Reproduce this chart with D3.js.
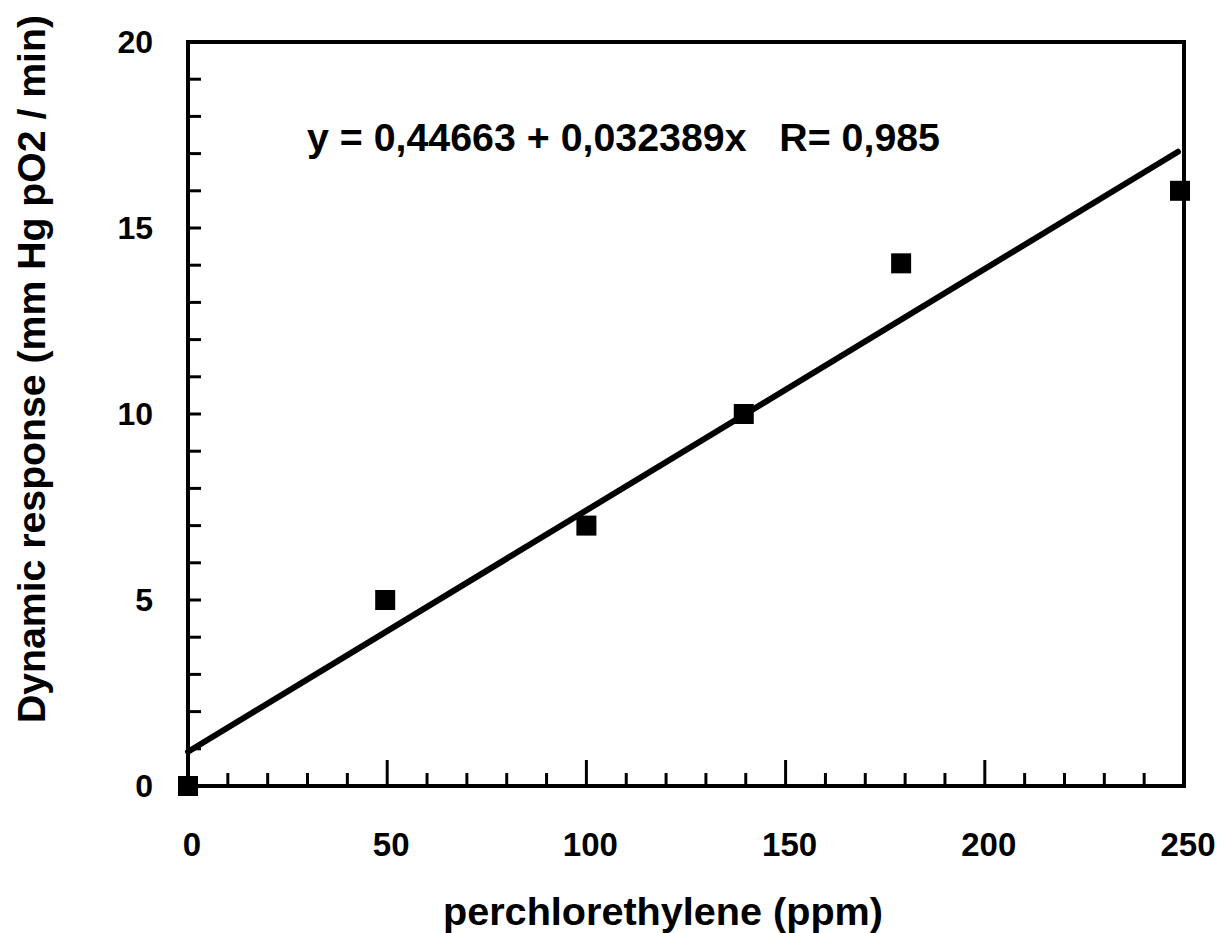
<!DOCTYPE html>
<html>
<head>
<meta charset="utf-8">
<script src="https://cdn.jsdelivr.net/npm/d3@7"></script>
<style>
  html, body { margin: 0; padding: 0; background: #fff; }
  svg { display: block; }
  text { font-family: "Liberation Sans", Arial, Helvetica, sans-serif; font-weight: bold; fill: #000; }
</style>
</head>
<body>
<svg id="chart" width="1231" height="933"></svg>
<script>
// ---- data ----
const concentration = [0, 49.5, 100, 139.5, 179, 249];      // perchlorethylene (ppm)
const response      = [0, 5.0, 7.0, 10.0, 14.05, 16.0];      // mm Hg pO2 / min
const fitX = [0, 248.5];
const fitY = [0.92, 17.05];
const xTickLabels = [0, 50, 100, 150, 200, 250];
const yTickLabels = [0, 5, 10, 15, 20];
const xMinorTicks = d3.range(0, 251, 10);
const yMinorTicks = d3.range(0, 21, 1);
const equationText = "y = 0,44663 + 0,032389x   R= 0,985";
const xTitle = "perchlorethylene (ppm)";
const yTitle = "Dynamic response (mm Hg pO2 / min)";

// ---- layout ----
const svg = d3.select("#chart");
const x = d3.scaleLinear().domain([0, 250]).range([188, 1184]);
const y = d3.scaleLinear().domain([0, 20]).range([786, 42]);

// frame
svg.append("rect")
  .attr("x", x(0)).attr("y", y(20))
  .attr("width", x(250) - x(0)).attr("height", y(0) - y(20))
  .attr("fill", "none").attr("stroke", "#000").attr("stroke-width", 4);

// x ticks (inward)
svg.append("g").selectAll("line").data(xMinorTicks).join("line")
  .attr("x1", d => x(d)).attr("x2", d => x(d))
  .attr("y1", y(0)).attr("y2", d => y(0) - (d % 50 === 0 ? 26 : 13))
  .attr("stroke", "#000").attr("stroke-width", 3);

// y ticks (inward)
svg.append("g").selectAll("line").data(yMinorTicks).join("line")
  .attr("x1", x(0)).attr("x2", x(0) + 13)
  .attr("y1", d => y(d)).attr("y2", d => y(d))
  .attr("stroke", "#000").attr("stroke-width", 3);

// x tick labels
svg.append("g").selectAll("text").data(xTickLabels).join("text")
  .attr("x", d => x(d) + 4).attr("y", 856)
  .attr("text-anchor", "middle").attr("font-size", 33)
  .text(d => d);

// y tick labels
svg.append("g").selectAll("text").data(yTickLabels).join("text")
  .attr("x", 153).attr("y", d => y(d) + 11)
  .attr("text-anchor", "end").attr("font-size", 32)
  .text(d => d);

// fit line
svg.append("line")
  .attr("x1", x(fitX[0])).attr("y1", y(fitY[0]))
  .attr("x2", x(fitX[1])).attr("y2", y(fitY[1]))
  .attr("stroke", "#000").attr("stroke-width", 6).attr("stroke-linecap", "round");

// data squares
const pts = concentration.map((c, i) => ({ c, r: response[i] }));
svg.append("g").selectAll("rect").data(pts).join("rect")
  .attr("x", d => x(d.c) - 10).attr("y", d => y(d.r) - 10)
  .attr("width", 20).attr("height", 20).attr("fill", "#000");

// equation
svg.append("text")
  .attr("x", 307).attr("y", 151)
  .attr("font-size", 38)
  .attr("textLength", 633).attr("lengthAdjust", "spacingAndGlyphs")
  .attr("xml:space", "preserve")
  .style("white-space", "pre")
  .text(equationText);

// axis titles
svg.append("text")
  .attr("x", 663).attr("y", 925)
  .attr("text-anchor", "middle").attr("font-size", 39)
  .attr("textLength", 440).attr("lengthAdjust", "spacingAndGlyphs")
  .text(xTitle);

svg.append("text")
  .attr("transform", "translate(45,369) rotate(-90)")
  .attr("text-anchor", "middle").attr("font-size", 39)
  .attr("textLength", 708).attr("lengthAdjust", "spacingAndGlyphs")
  .text(yTitle);
</script>
</body>
</html>
